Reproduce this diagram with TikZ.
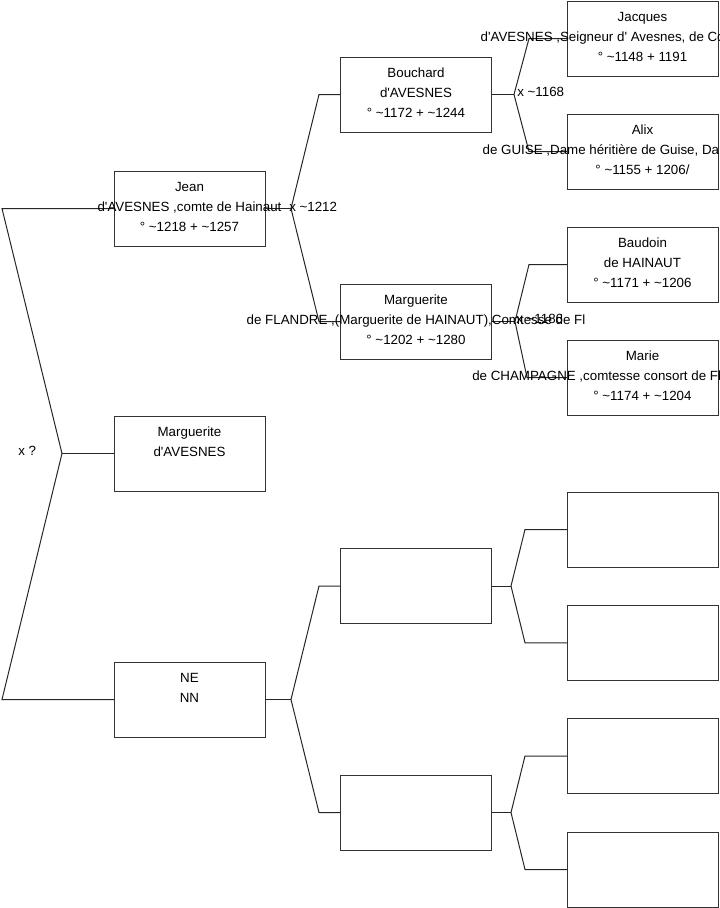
\documentclass[tikz,border=0pt]{standalone}
\usepackage{fontspec}
\setmainfont{Liberation Sans}
\newcommand{\tl}{\textasciitilde}
\newcommand{\ap}{\textquotesingle}
\begin{document}
\begin{tikzpicture}[x=0.75pt,y=-0.75pt,
 pbox/.style={draw=black!80,line width=0.75pt,minimum width=113.25pt,minimum height=56.25pt,inner sep=0pt,outer sep=0pt},
 ptxt/.style={anchor=north,inner sep=0pt,align=center,font=\fontsize{10pt}{15pt}\selectfont},
 link/.style={draw=black!85,line width=0.75pt},
 mlab/.style={anchor=west,inner sep=0pt,font=\fontsize{10pt}{15pt}\selectfont}]
\useasboundingbox (0,0) rectangle (719,908);

% level 1
\node[pbox] (jean) at (189.5,208.5) {};
\node[pbox] (marga) at (189.5,453.5) {};
\node[pbox] (ne) at (189.5,699.5) {};
% level 2
\node[pbox] (bouchard) at (416,94.5) {};
\node[pbox] (margf) at (416,321.5) {};
\node[pbox] (ea) at (416,586) {};
\node[pbox] (eb) at (416,812.5) {};
% level 3
\node[pbox] (jacques) at (642.5,38.5) {};
\node[pbox] (alix) at (642.5,151.5) {};
\node[pbox] (baudoin) at (642.5,264.5) {};
\node[pbox] (marie) at (642.5,377.5) {};
\node[pbox] (e1) at (642.5,529.5) {};
\node[pbox] (e2) at (642.5,642.75) {};
\node[pbox] (e3) at (642.5,756) {};
\node[pbox] (e4) at (642.5,869.5) {};

% fork points
\coordinate (f0) at (62,453.5);
\coordinate (f0a) at (2,208.5);
\coordinate (f0b) at (2,699.5);
\coordinate (fj) at (291,208.5);
\coordinate (fja) at (319,94.5);
\coordinate (fjb) at (319,321.5);
\coordinate (fn) at (291,699.5);
\coordinate (fna) at (319,586);
\coordinate (fnb) at (319,812.5);
\coordinate (fb) at (514,94.5);
\coordinate (fba) at (529,38.5);
\coordinate (fbb) at (529,151.5);
\coordinate (fm) at (515,321.5);
\coordinate (fma) at (529,264.5);
\coordinate (fmb) at (527,377.5);
\coordinate (fe) at (511,586);
\coordinate (fea) at (525,529.5);
\coordinate (feb) at (525,642.75);
\coordinate (ff) at (511,812.5);
\coordinate (ffa) at (525,756);
\coordinate (ffb) at (525,869.5);

% connectors
\draw[link] (jean.west) -- (f0a) -- (f0) -- (f0b) -- (ne.west);
\draw[link] (f0) -- (marga.west);
\draw[link] (jean.east) -- (fj);
\draw[link] (bouchard.west) -- (fja) -- (fj) -- (fjb) -- (margf.west);
\draw[link] (ne.east) -- (fn);
\draw[link] (ea.west) -- (fna) -- (fn) -- (fnb) -- (eb.west);
\draw[link] (bouchard.east) -- (fb);
\draw[link] (jacques.west) -- (fba) -- (fb) -- (fbb) -- (alix.west);
\draw[link] (margf.east) -- (fm);
\draw[link] (baudoin.west) -- (fma) -- (fm) -- (fmb) -- (marie.west);
\draw[link] (ea.east) -- (fe);
\draw[link] (e1.west) -- (fea) -- (fe) -- (feb) -- (e2.west);
\draw[link] (eb.east) -- (ff);
\draw[link] (e3.west) -- (ffa) -- (ff) -- (ffb) -- (e4.west);

% marriage labels
\node[mlab] (m0) at (18,451) {x ?};
\node[mlab] (m1) at (289,207) {x \tl1212};
\node[mlab] (m2) at (517,92) {x \tl1168};
\node[mlab] (m3) at (516,319) {x \tl1186};

% texts
\node[ptxt] (jean-t) at ([yshift=-4.5pt]jean.north) {\strut Jean\\d\ap AVESNES ,comte de Hainaut\\° \tl1218 + \tl1257};
\node[ptxt] (marga-t) at ([yshift=-4.5pt]marga.north) {\strut Marguerite\\d\ap AVESNES};
\node[ptxt] (ne-t) at ([yshift=-4.5pt]ne.north) {\strut NE\\NN};
\node[ptxt] (bouchard-t) at ([yshift=-4.5pt]bouchard.north) {\strut Bouchard\\d\ap AVESNES\\° \tl1172 + \tl1244};
\node[ptxt] (margf-t) at ([yshift=-4.5pt]margf.north) {\strut Marguerite\\de FLANDRE ,(Marguerite de HAINAUT),Comtesse de Fl\\° \tl1202 + \tl1280};
\node[ptxt] (jacques-t) at ([yshift=-4.5pt]jacques.north) {\strut Jacques\\\makebox[242.7pt][l]{d\ap AVESNES ,Seigneur d\ap{} Avesnes, de Co}\\° \tl1148 + 1191};
\node[ptxt] (alix-t) at ([yshift=-4.5pt]alix.north) {\strut Alix\\\makebox[239.7pt][l]{de GUISE ,Dame héritière de Guise, Da}\\° \tl1155 + 1206/};
\node[ptxt] (baudoin-t) at ([yshift=-4.5pt]baudoin.north) {\strut Baudoin\\de HAINAUT\\° \tl1171 + \tl1206};
\node[ptxt] (marie-t) at ([yshift=-4.5pt]marie.north) {\strut Marie\\\makebox[255.3pt][l]{de CHAMPAGNE ,comtesse consort de Fl}\\° \tl1174 + \tl1204};
\end{tikzpicture}
\end{document}
